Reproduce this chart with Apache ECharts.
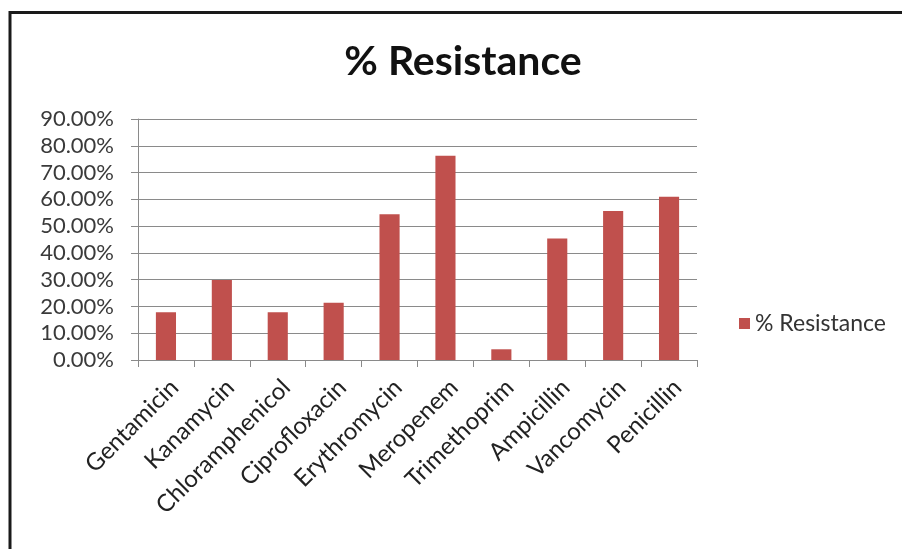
<!DOCTYPE html>
<html>
<head>
<meta charset="utf-8">
<title>% Resistance</title>
<script src="https://cdn.jsdelivr.net/npm/echarts@6/dist/echarts.min.js"></script>
<style>
  html, body { margin: 0; padding: 0; background: #ffffff; }
  #chart { width: 902px; height: 549px; }
</style>
</head>
<body>
<div id="chart"></div>
<script>
// Antibiotics tested
const categories = [
  'Gentamicin', 'Kanamycin', 'Chloramphenicol', 'Ciprofloxacin', 'Erythromycin',
  'Meropenem', 'Trimethoprim', 'Ampicillin', 'Vancomycin', 'Penicillin'
];
// Share of resistant isolates, in percent
const resistance = [17.8, 29.9, 17.8, 21.4, 54.4, 76.3, 4.0, 45.4, 55.6, 61.0];
// Value axis range and step, in percent
const yMin = 0;
const yMax = 90;
const yStep = 10;

const seriesName = '% Resistance';
const barColor = '#c0504d';
const textFont = 'Lato';

const chart = echarts.init(document.getElementById('chart'), null, { renderer: 'canvas' });

chart.setOption({
  backgroundColor: '#ffffff',
  animation: false,
  title: {
    text: seriesName,
    left: 458,
    top: 36,
    textAlign: 'center',
    textStyle: {
      fontFamily: textFont,
      fontWeight: 'bold',
      fontSize: 41,
      color: '#111111'
    }
  },
  legend: {
    left: 734,
    top: 307,
    icon: 'rect',
    itemWidth: 11,
    itemHeight: 11,
    data: [seriesName],
    textStyle: {
      fontFamily: textFont,
      fontSize: 23,
      color: '#333333'
    }
  },
  grid: {
    left: 138,
    right: 205,
    top: 119,
    bottom: 189,
    containLabel: false
  },
  xAxis: {
    type: 'category',
    data: categories,
    boundaryGap: true,
    axisLine: { show: true, lineStyle: { color: '#8a8a8a', width: 1 } },
    axisTick: { show: true, alignWithLabel: false, length: 7, lineStyle: { color: '#8a8a8a' } },
    axisLabel: {
      interval: 0,
      rotate: 45,
      margin: 15,
      verticalAlign: 'top',
      fontFamily: textFont,
      fontSize: 24,
      color: '#222222'
    }
  },
  yAxis: {
    type: 'value',
    min: yMin,
    max: yMax,
    interval: yStep,
    axisLine: { show: true, lineStyle: { color: '#8a8a8a', width: 1 } },
    axisTick: { show: true, length: 7, lineStyle: { color: '#8a8a8a' } },
    splitLine: { show: true, lineStyle: { color: '#8a8a8a', width: 1.2 } },
    axisLabel: {
      margin: 24,
      fontFamily: textFont,
      fontSize: 22,
      color: '#3a3a3a',
      formatter: v => v.toFixed(2) + '%'
    }
  },
  series: [{
    name: seriesName,
    type: 'bar',
    data: resistance,
    barWidth: '36%',
    itemStyle: { color: barColor }
  }],
  graphic: [{
    type: 'polyline',
    shape: { points: [[10, 549], [10, 12.5], [902, 12.5]] },
    style: { stroke: '#1a1a1a', lineWidth: 3, fill: null }
  }]
});
</script>
</body>
</html>
